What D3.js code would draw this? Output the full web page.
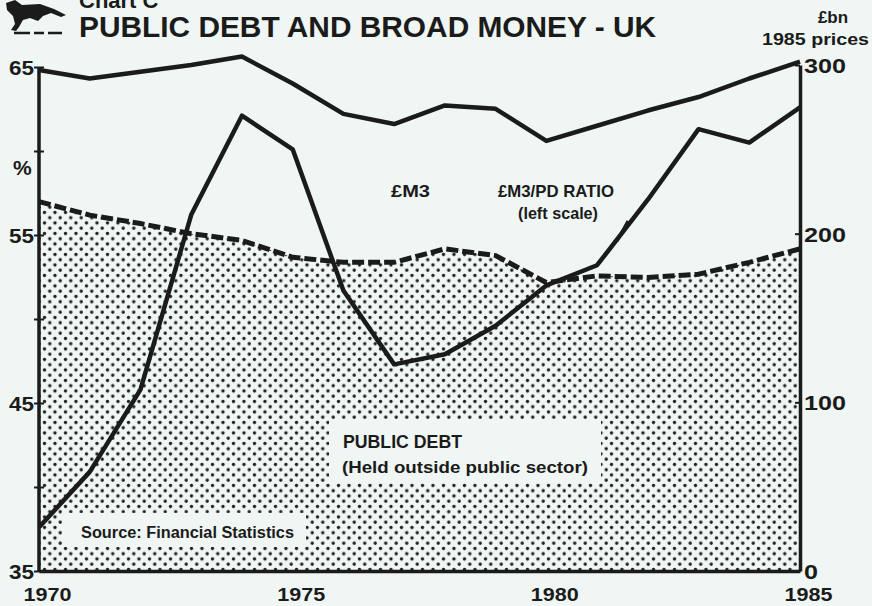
<!DOCTYPE html>
<html><head><meta charset="utf-8">
<script src="https://cdn.jsdelivr.net/npm/d3@7"></script>
<style>
html,body{margin:0;padding:0;background:#eff6f3;}
svg{display:block;}
text{font-family:"Liberation Sans",Arial,Helvetica,sans-serif;font-weight:bold;fill:#1b1b1b;}
</style></head>
<body>
<svg id="c" width="872" height="606"></svg>
<script>
const years = [1970,1971,1972,1973,1974,1975,1976,1977,1978,1979,1980,1981,1982,1983,1984,1985];
// £M3, £bn 1985 prices (right scale)
const m3 = [297,292,296,300,305,289,271,265,276,274,255,264,273,281,292,302];
// Public debt held outside public sector, £bn 1985 prices (right scale)
const publicDebt = [219,211,206,200,196,186,183,183,191,187,171,175,174,176,183,191];
// £M3 / PD ratio, % (left scale)
const ratio = [37.6,40.9,45.8,56.2,62.1,60.1,51.7,47.3,47.9,49.6,52.0,53.2,57.1,61.3,60.5,62.6];
const leftTicks = [35,40,45,50,55,60,65];
const leftLabels = [35,45,55,65];
const rightTicks = [0,100,200,300];
const xTicks = [1970,1975,1980,1985];

const svg = d3.select("#c");
const ink = "#1b1b1b";
const bg = "#eff6f3";
const x = d3.scaleLinear().domain([1970,1985]).range([39,800]);
const yL = d3.scaleLinear().domain([35,65]).range([571,67]);
const yR = d3.scaleLinear().domain([0,300]).range([571,65]);

// stipple pattern
const defs = svg.append("defs");
const pat = defs.append("pattern").attr("id","dots").attr("patternUnits","userSpaceOnUse")
  .attr("width",10.5).attr("height",10.5);
pat.append("circle").attr("cx",2.5).attr("cy",2.5).attr("r",1.7).attr("fill","#1e1e1e");
pat.append("circle").attr("cx",7.75).attr("cy",7.75).attr("r",1.7).attr("fill","#1e1e1e");

// area
const area = d3.area().x((d,i)=>x(years[i])).y0(yR(0)).y1(d=>yR(d));
svg.append("path").datum(publicDebt).attr("d",area).attr("fill","url(#dots)");

// white label boxes
svg.append("rect").attr("x",329).attr("y",419).attr("width",272).attr("height",64).attr("fill",bg);
svg.append("rect").attr("x",63).attr("y",513).attr("width",243).attr("height",34).attr("fill",bg);
svg.append("text").attr("x",343).attr("y",448).attr("font-size",19).attr("textLength",119).attr("lengthAdjust","spacingAndGlyphs").text("PUBLIC  DEBT");
svg.append("text").attr("x",342).attr("y",473).attr("font-size",17).attr("textLength",246).attr("lengthAdjust","spacingAndGlyphs").text("(Held outside public sector)");
svg.append("text").attr("x",81).attr("y",538).attr("font-size",16).attr("textLength",213).attr("lengthAdjust","spacingAndGlyphs").text("Source: Financial Statistics");

// public debt dashed line
const lineR = d3.line().x((d,i)=>x(years[i])).y(d=>yR(d));
svg.append("path").datum(publicDebt).attr("d",lineR).attr("fill","none")
  .attr("stroke",ink).attr("stroke-width",5).attr("stroke-dasharray","12,4");

// M3 line
svg.append("path").datum(m3).attr("d",lineR).attr("fill","none")
  .attr("stroke",ink).attr("stroke-width",4.5).attr("stroke-linejoin","round");

// ratio line
const lineL = d3.line().x((d,i)=>x(years[i])).y(d=>yL(d));
svg.append("path").datum(ratio).attr("d",lineL).attr("fill","none")
  .attr("stroke",ink).attr("stroke-width",4.5).attr("stroke-linejoin","round");

// axes
const axL = svg.append("g").attr("transform",`translate(${x(1970)},0)`)
  .call(d3.axisLeft(yL).tickValues(leftTicks).tickSize(5).tickSizeOuter(0)
    .tickFormat(d=>leftLabels.includes(d)?d:""));
const axR = svg.append("g").attr("transform",`translate(${x(1985)},0)`)
  .call(d3.axisRight(yR).tickValues(rightTicks).tickSize(0).tickSizeOuter(0).tickPadding(4));
const axB = svg.append("g").attr("transform",`translate(0,${yL(35)})`)
  .call(d3.axisBottom(x).tickValues(xTicks).tickSize(0).tickSizeOuter(0).tickFormat(d3.format("d")).tickPadding(17));
[axL,axR,axB].forEach(g=>{
  g.select(".domain").attr("stroke",ink).attr("stroke-width",3.5);
  g.selectAll(".tick line").attr("stroke",ink).attr("stroke-width",2);
  g.selectAll("text").attr("fill",ink).attr("font-family","Liberation Sans, Arial, sans-serif")
    .attr("font-weight","bold").attr("font-size",21).attr("lengthAdjust","spacingAndGlyphs");
});
axL.selectAll(".tick line").attr("x2",5).attr("x1",-5);
axL.selectAll("text").attr("x",-5).attr("dy","0.36em")
  .attr("textLength",d=>leftLabels.includes(d)?25:null);
axR.selectAll(".tick line").attr("x1",-5).attr("x2",0);
axR.selectAll("text").attr("x",4).attr("dy","0.36em")
  .attr("textLength",d=>String(d).length*14);
axB.selectAll("text").attr("dx",8).attr("font-size",19).attr("textLength",48);
axL.select(".domain").attr("d",`M0,${yL(65)}V${yL(35)}`);

// labels
svg.append("text").attr("x",13).attr("y",175).attr("font-size",21).text("%");
svg.append("text").attr("x",833).attr("y",23).attr("text-anchor","middle").attr("font-size",17).text("£bn");
svg.append("text").attr("x",869).attr("y",45).attr("text-anchor","end").attr("font-size",17).attr("textLength",107).attr("lengthAdjust","spacingAndGlyphs").text("1985 prices");
svg.append("text").attr("x",391).attr("y",197).attr("font-size",17).attr("textLength",39).attr("lengthAdjust","spacingAndGlyphs").text("£M3");
svg.append("text").attr("x",498).attr("y",197).attr("font-size",17).attr("textLength",116).attr("lengthAdjust","spacingAndGlyphs").text("£M3/PD RATIO");
svg.append("text").attr("x",518).attr("y",219).attr("font-size",16).attr("textLength",80).attr("lengthAdjust","spacingAndGlyphs").text("(left scale)");
svg.append("line").attr("x1",628).attr("y1",221).attr("x2",617).attr("y2",241).attr("stroke",ink).attr("stroke-width",3);

// title
svg.append("text").attr("x",79).attr("y",8).attr("font-size",22).text("Chart C");
svg.append("text").attr("x",79).attr("y",37).attr("font-size",29).attr("textLength",577).attr("lengthAdjust","spacingAndGlyphs").text("PUBLIC DEBT AND BROAD MONEY - UK");

// rough logo (leaping horse)
const logo = svg.append("g");
logo.append("path").attr("fill",ink)
  .attr("d","M6,3 L15,0 L22,5 L40,4 L54,9 L66,15 L61,17 L51,13 L43,16 L38,21 L30,18 L23,20 L19,27 L16,31 L11,30 L15,24 L13,16 L7,10 Z");
logo.append("path").attr("stroke",ink).attr("stroke-width",2.5).attr("fill","none")
  .attr("d","M14,33 H30 M34,33 H44 M48,33 H62");
</script>
</body></html>
